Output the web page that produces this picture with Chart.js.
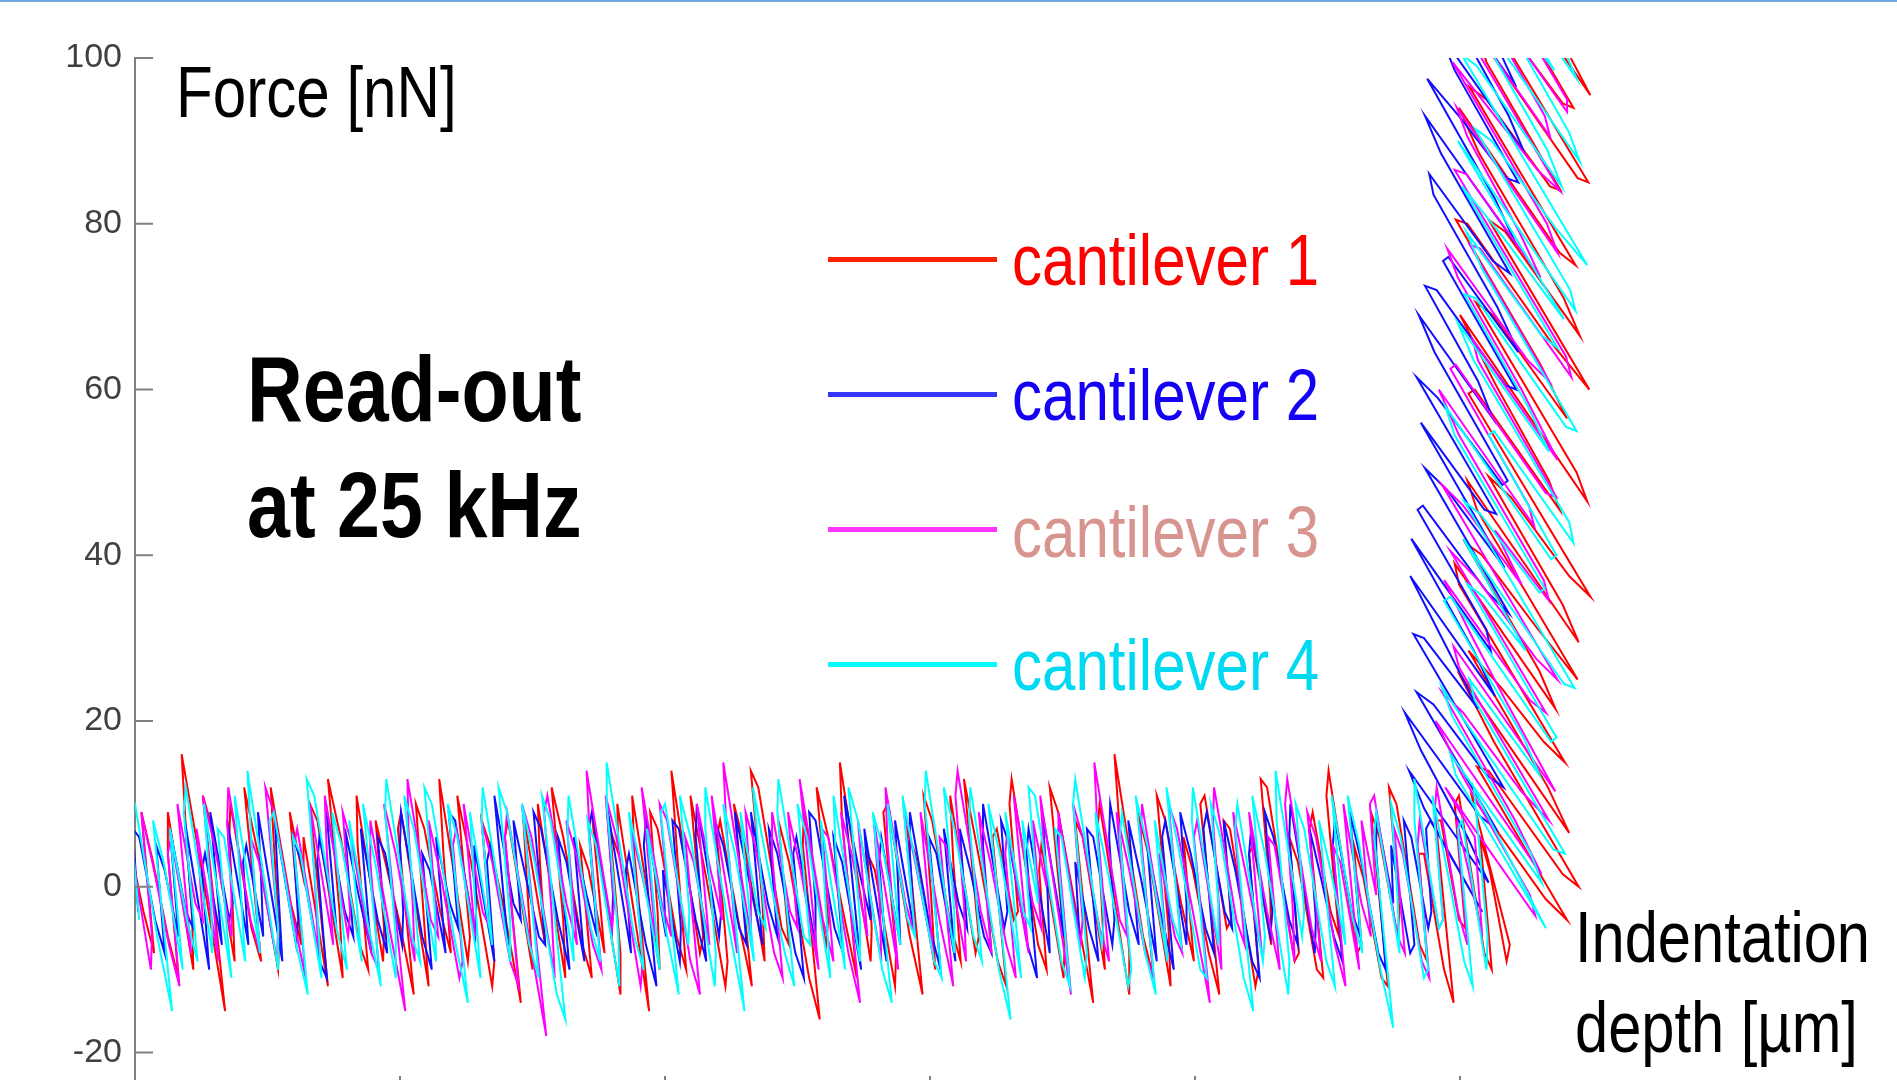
<!DOCTYPE html>
<html>
<head>
<meta charset="utf-8">
<title>Read-out at 25 kHz</title>
<script src="https://cdn.jsdelivr.net/npm/chart.js@4.4.1/dist/chart.umd.min.js"></script>
<style>
  html, body { margin: 0; padding: 0; background: #fff; }
  #stage { position: relative; width: 1897px; height: 1080px; overflow: hidden; background: #fff; }
  #stage canvas { position: absolute; left: 0; top: 0; }
  .topline { position: absolute; left: 0; top: 0; width: 1897px; height: 2px; background: #6fa8dc; }
  .txt { position: absolute; white-space: nowrap; font-family: "Liberation Sans", Arial, sans-serif; line-height: 1; color: #000; transform-origin: left top; }
  .key { position: absolute; left: 828px; width: 169px; height: 5px; }
</style>
</head>
<body>
<div id="stage">
  <canvas id="myChart" width="1897" height="1130"></canvas>
  <div class="topline"></div>

  <div class="txt" style="left:176px; top:56px; font-size:72px; transform:scaleX(0.835);">Force [nN]</div>
  <div class="txt" style="left:247px; top:331px; font-size:93px; font-weight:bold; line-height:116px; transform:scaleX(0.83);">Read-out<br>at 25 kHz</div>

  <div class="key" style="top:257px; background:#ff2000;"></div>
  <div class="key" style="top:392px; background:#3535f5;"></div>
  <div class="key" style="top:527px; background:#ff33ff;"></div>
  <div class="key" style="top:662px; background:#00ffff;"></div>
  <div class="txt" style="left:1012px; top:224px; font-size:72px; color:#ff0000; transform:scaleX(0.834);">cantilever 1</div>
  <div class="txt" style="left:1012px; top:359px; font-size:72px; color:#1400f5; transform:scaleX(0.834);">cantilever 2</div>
  <div class="txt" style="left:1012px; top:496px; font-size:72px; color:#d8958f; transform:scaleX(0.834);">cantilever 3</div>
  <div class="txt" style="left:1012px; top:629px; font-size:72px; color:#00d9f2; transform:scaleX(0.834);">cantilever 4</div>

  <div class="txt" style="left:1575px; top:892px; font-size:72px; line-height:90px; transform:scaleX(0.828);">Indentation<br>depth [&micro;m]</div>
</div>

<script>
// cantilever 1 (red): baseline part, then the contact part
const c1x = [
  -0.5, 0.8, 1.8, 0.6, 1.7, 3.1, 4.1, 3.1, 3.1, 5.5, 5.4, 4.8, 4.4, 6.3, 8.5, 6.4, 7.3, 9.4, 9.2, 8.9,
  9.0, 11.0, 11.9, 10.3, 11.6, 13.5, 13.6, 13.2, 12.8, 14.7, 15.7, 14.6, 15.9, 15.9, 18.2, 16.5, 17.2, 19.6, 19.3, 18.2,
  19.4, 21.2, 22.0, 21.0, 20.9, 23.4, 23.5, 22.7, 23.8, 24.9, 26.3, 24.8, 25.1, 27.7, 27.1, 26.5, 27.3, 28.8, 29.8, 29.1,
  28.7, 31.4, 31.6, 30.4, 31.7, 33.7, 33.9, 32.7, 33.5, 34.7, 36.4, 34.9, 35.2, 37.5, 37.0, 36.6, 38.7, 38.2, 38.0, 40.6,
  40.4, 39.3, 40.4, 42.2, 43.1, 42.0, 42.8, 44.3, 43.1, 45.8, 45.8, 44.8, 45.6, 45.5, 48.5, 47.1, 46.9, 49.5, 49.3, 48.6,
  49.3, 51.1, 52.0, 51.2, 50.6, 53.3, 53.6, 52.4, 53.9, 55.7, 55.9, 54.9, 55.2, 56.9, 58.2, 56.5, 57.5, 59.4, 59.2, 58.1,
  58.8, 61.0, 61.7, 60.7, 61.7, 63.6, 64.6, 63.0, 63.1, 65.2, 65.4, 64.3, 65.4, 66.8, 68.1, 66.7, 66.5, 69.4, 69.5, 69.1,
  69.8, 71.7, 71.8, 70.6, 71.0, 73.1, 74.3, 72.8, 73.6, 75.5, 75.1, 74.4, 75.2, 77.0, 77.9, 77.2, 76.9, 79.3, 79.6, 78.2,
  79.7, 81.4, 82.2, 80.9, 81.3, 82.9, 83.3, 82.5, 82.7, 85.2, 86.0, 85.3, 85.5, 87.6, 87.7, 86.3, 87.1, 88.8, 90.4, 88.7,
  89.4, 91.5, 91.2, 90.8, 91.0, 93.8, 93.8, 93.0, 92.4, 95.1, 96.1, 94.6, 95.6, 97.7, 97.5, 96.4, 97.2, 98.7, 99.9, 98.9,
  99.8, 101.3, 102.3, 100.5, 100.9, 103.0, 103.4, 102.7, 103.3, 105.7, 106.0, 105.1, 105.5, 107.2, 107.1, 106.2, 106.8, 109.4, 109.8, 108.9,
  109.7, 111.5, 112.1, 110.8, 111.1, 112.8, 113.6, 112.4, 112.6, 115.3, 115.7, 115.0, 115.9, 117.6, 118.2, 116.6, 117.4, 119.1, 119.3, 118.3,
  119.0, 121.2, 121.9, 121.1, 121.6, 123.5, 124.4, 122.7, 123.2, 124.9, 125.5, 124.5, 124.9, 127.3, 128.0, 126.9, 127.8, 129.4,
  129.7,
  126.1, 133.1, 135.1, 126.6, 127.7, 134.7, 136.2, 128.2, 124.8, 135.3,
  133.3, 125.8, 128.9, 132.9, 134.9, 124.9, 124.5, 134.0, 132.5, 125.5,
  127.1, 132.1, 136.1, 126.6, 125.7, 136.2, 134.7, 127.7, 129.8, 135.3,
  137.3, 125.8, 126.4, 134.4, 133.4, 128.4, 125.0, 137.0, 136.0, 126.5,
  128.1, 135.1, 132.6, 124.6, 125.7, 133.7, 137.2, 127.7, 129.3, 136.3,
  134.8, 126.8, 124.9, 134.4, 135.9, 125.9, 127.5, 133.5, 134.5, 127.5,
  126.6, 136.1, 137.1, 125.6, 129.2, 134.7, 135.7, 127.2, 125.8, 137.3,
  133.8, 128.3, 127.4, 134.4, 136.9
];
const c1y = [
  5, -3, -8, 9, 3, -6, -11, 4, 9, -10, -4, 7, 16, 2, -15, 11, 7, -9, -2, 6,
  10, -5, -9, 12, 4, -10, -6, 3, 12, -2, -7, 9, 1, 6, -12, 10, 8, -11, -3, 13,
  6, -7, -10, 5, 11, -9, -5, 8, 2, -4, -13, 7, 9, -12, -1, 10, 7, -3, -8, 4,
  13, -9, -6, 11, 3, -12, -9, 8, 5, -2, -14, 6, 8, -10, 0, 9, -7, 3, 10, -11,
  -4, 12, 6, -7, -11, 5, 2, -8, 9, -13, -8, 7, 4, 10, -15, 4, 11, -10, -3, 9,
  7, -6, -10, 3, 14, -8, -6, 11, 1, -12, -9, 6, 8, -4, -12, 10, 5, -9, -2, 14,
  12, -5, -7, 8, 3, -11, -16, 5, 9, -7, -4, 12, 6, -3, -11, 8, 15, -9, -5, 4,
  2, -12, -8, 9, 10, -6, -13, 7, 4, -10, -1, 11, 8, -5, -9, 3, 11, -8, -6, 13,
  3, -9, -12, 6, 7, -4, -3, 10, 13, -7, -10, 2, 5, -11, -7, 12, 9, -3, -14, 8,
  6, -10, -2, 7, 10, -13, -8, 5, 16, -6, -11, 9, 4, -12, -5, 11, 8, -2, -9, 6,
  2, -8, -13, 10, 11, -5, -4, 8, 7, -12, -10, 4, 5, -7, -1, 13, 12, -9, -8, 6,
  3, -10, -11, 7, 9, -3, -6, 11, 14, -8, -7, 5, 1, -11, -12, 9, 6, -6, -3, 12,
  10, -7, -9, 4, 4, -10, -14, 8, 8, -4, -5, 10, 11, -8, -10, 6, 2, -9,
  -7,
  11, -1.5, -4, 14.5, 14, 1.5, 0, 17.5, 26, 6.5,
  12, 28.5, 24, 17.5, 15, 36.5, 39, 21.5, 26, 41.5,
  40, 31.5, 25, 45.5, 49, 29.5, 34, 49.5, 47, 37.5,
  35, 59.5, 60, 45.5, 49, 60.5, 69, 46.5, 50, 70.5,
  69, 56.5, 63, 80.5, 80, 65.5, 60, 80.5, 79, 66.5,
  71, 88.5, 94, 76.5, 75, 96.5, 95, 84.5, 84, 99.5,
  103, 85.5, 85, 109.5, 104, 94.5, 94, 112.5, 117, 95.5,
  104, 116.5, 120, 107.5, 104
];

// cantilever 2 (blue)
const c2x = [
  0.3, -0.2, 0.4, 1.9, 2.8, 2.0, 2.8, 4.1, 3.3, 4.8, 5.5, 4.7, 7.0, 6.3, 6.6, 8.2, 7.1, 8.9, 9.2, 8.7,
  10.7, 10.2, 10.5, 12.1, 11.9, 11.6, 13.9, 13.5, 13.2, 15.2, 15.4, 14.9, 15.7, 17.4, 18.1, 17.2, 17.4, 19.0, 18.0, 19.8,
  20.6, 19.8, 21.1, 22.3, 21.3, 22.9, 23.8, 22.9, 23.6, 25.2, 25.3, 25.0, 25.1, 27.1, 28.0, 27.1, 27.8, 29.3, 28.4, 29.7,
  30.5, 29.6, 30.2, 32.1, 32.2, 32.0, 33.9, 33.2, 33.5, 35.2, 33.9, 35.7, 36.4, 35.7, 36.9, 38.1, 38.7, 37.6, 38.3, 39.9,
  41.0, 39.9, 40.7, 42.4, 41.4, 42.6, 43.6, 42.8, 43.1, 45.0, 45.1, 44.5, 46.8, 46.3, 46.6, 48.2, 49.2, 48.0, 48.2, 50.1,
  49.8, 51.4, 51.5, 50.7, 51.3, 52.9, 53.9, 52.9, 53.0, 55.1, 55.3, 54.7, 55.5, 57.0, 57.7, 56.6, 57.9, 59.2, 58.1, 59.7,
  60.6, 59.8, 60.6, 62.3, 63.1, 62.1, 62.4, 64.2, 64.2, 63.6, 64.2, 66.0, 66.8, 65.9, 66.7, 68.5, 66.9, 68.3, 69.4, 68.8,
  70.9, 70.2, 70.4, 72.2, 72.0, 71.7, 73.6, 73.1, 73.1, 75.0, 76.0, 74.9, 75.6, 77.4, 76.3, 77.7, 78.5, 77.8, 78.8, 80.1,
  80.8, 80.0, 80.0, 82.0, 82.3, 81.7, 82.5, 84.2, 85.1, 84.1, 84.3, 86.3, 86.1, 85.6, 87.6, 87.0, 87.2, 89.1, 88.7, 90.0,
  90.9, 89.8, 90.4, 92.2, 92.4, 91.9, 92.0, 93.8, 94.7, 93.7, 94.9, 96.4, 95.5, 96.9, 98.0, 96.9, 97.2, 99.2, 99.2, 98.6,
  99.6, 101.0, 101.8, 100.8, 101.1, 102.8, 103.5, 102.7, 103.8, 105.4, 106.1, 105.1, 105.3, 107.1, 107.3, 106.6, 107.4, 108.9, 109.7, 108.9,
  109.0, 111.3, 111.4, 110.8, 111.9, 113.1, 113.9, 113.0, 113.2, 114.8, 115.6, 114.6, 115.7, 117.3, 118.0, 117.1, 117.1, 118.7, 118.5, 120.3,
  120.7, 119.7, 120.4, 122.0, 122.3, 121.8,
  122.2,
  127.1, 121.6, 120.2, 127.7, 125.7, 121.3, 119.8, 126.9, 128.4, 120.9,
  122.5, 127.5, 129.1, 120.6, 121.6, 126.7, 123.7, 120.3, 128.3, 126.3,
  120.4, 127.9, 127.5, 121.0, 121.5, 127.6, 129.6, 121.7, 123.7, 129.2,
  121.3, 127.3, 128.4, 120.9, 122.9, 129.0, 129.5, 122.6, 121.1, 128.1,
  126.7, 121.7, 122.8, 129.3, 130.3, 123.4, 123.9, 130.5, 128.5, 122.5,
  122.1, 128.1, 129.7, 123.2, 121.7, 130.3, 128.3, 121.9, 124.9, 129.4,
  130.5, 124.5, 123.1, 131.1, 129.6, 124.2, 122.2, 130.3, 128.3, 122.8,
  124.4, 129.9, 131.5, 125.0, 123.0
];
const c2y = [
  -3, 7, 6, -4, -8, 5, 2, -6, 7, -3, -5, 8, -10, 2, 4, -7, 9, -4, -2, 8,
  -7, 3, 5, -6, 1, 9, -9, 0, 8, -7, -4, 6, 3, -9, -11, 3, 6, -5, 10, -3,
  -6, 7, -1, -8, 7, -4, -8, 6, 4, -7, -3, 5, 9, -6, -10, 4, 2, -8, 6, -2,
  -5, 9, 8, -6, -2, 5, -9, 3, 5, -7, 11, -2, -4, 8, 1, -6, -7, 9, 7, -4,
  -10, 6, 3, -9, 6, -1, -6, 7, 9, -5, -1, 10, -8, 2, 4, -7, -12, 5, 8, -6,
  2, -9, -5, 8, 7, -4, -9, 6, 10, -6, -3, 8, 5, -5, -7, 9, 1, -7, 9, -2,
  -6, 7, 4, -8, -11, 4, 6, -7, -2, 9, 8, -5, -8, 6, 3, -10, 11, 2, -4, 7,
  -9, 3, 6, -7, 0, 8, -6, 4, 9, -5, -10, 6, 4, -9, 7, -2, -5, 7, 2, -6,
  -8, 5, 10, -5, -3, 8, 5, -7, -11, 4, 7, -8, -1, 9, -6, 5, 8, -6, 3, -5,
  -9, 7, 6, -7, -4, 6, 10, -3, -7, 8, 1, -9, 5, -4, -10, 6, 8, -7, -2, 9,
  4, -5, -8, 7, 9, -3, -5, 8, 2, -9, -11, 4, 7, -6, -3, 9, 6, -4, -7, 6,
  10, -8, -4, 7, 1, -6, -9, 5, 8, -3, -6, 9, 3, -8, -10, 4, 9, -2, 5, -8,
  -7, 8, 6, -5, -3, 7,
  8,
  -3, 9.5, 14, 0.5, 6, 16.5, 21, 8.5, 7, 23.5,
  22, 13.5, 12, 30.5, 30, 21.5, 29, 37.5, 23, 28.5,
  42, 28.5, 31, 45.5, 46, 35.5, 33, 50.5, 48, 38.5,
  56, 45.5, 45, 61.5, 59, 48.5, 49, 64.5, 69, 56.5,
  61, 72.5, 72, 60.5, 60, 75.5, 76, 64.5, 70, 83.5,
  86, 75.5, 74, 88.5, 93, 77.5, 83, 97.5, 93, 85.5,
  85, 98.5, 103, 88.5, 93, 105.5, 111, 96.5, 102, 114.5,
  113, 103.5, 102, 116.5, 122
];

// cantilever 3 (magenta)
const c3x = [
  -0.8, 1.5, 1.6, 0.6, 1.8, 3.2, 4.2, 3.1, 3.4, 5.3, 4.0, 5.7, 6.4, 5.8, 7.9, 6.4, 7.5, 9.1, 9.1, 8.7,
  8.8, 10.9, 11.8, 10.9, 11.7, 13.4, 13.5, 12.3, 13.1, 14.8, 16.1, 15.0, 15.3, 17.3, 17.0, 16.5, 18.7, 18.1, 17.9, 20.1,
  20.3, 19.6, 20.5, 22.3, 23.0, 22.2, 22.2, 24.0, 25.5, 23.5, 24.6, 26.4, 26.2, 25.8, 25.7, 27.9, 28.6, 27.7, 28.9, 30.6,
  30.9, 30.0, 30.3, 32.1, 31.0, 32.8, 33.5, 32.7, 33.7, 35.4, 36.2, 34.9, 35.1, 36.9, 38.8, 36.5, 37.4, 39.6, 39.3, 38.6,
  38.9, 40.7, 41.7, 40.7, 41.6, 43.2, 44.0, 42.9, 42.6, 45.0, 45.2, 44.4, 45.4, 47.7, 47.9, 46.8, 47.9, 49.1, 47.8, 49.7,
  50.6, 49.5, 50.2, 52.4, 53.3, 51.9, 52.7, 54.2, 53.0, 54.3, 55.4, 54.4, 56.8, 55.8, 55.5, 58.1, 58.1, 57.6, 58.5, 60.3,
  61.1, 60.1, 60.1, 61.8, 62.5, 61.6, 62.8, 64.5, 62.7, 64.9, 65.9, 64.8, 65.4, 67.3, 68.4, 66.6, 67.6, 69.1, 68.2, 70.4,
  70.3, 69.7, 72.0, 71.0, 70.8, 72.7, 73.6, 72.5, 73.9, 75.3, 74.1, 75.9, 77.2, 75.9, 76.5, 78.4, 78.2, 77.4, 77.6, 79.8,
  80.8, 79.6, 80.7, 82.2, 83.1, 82.1, 82.3, 84.3, 82.9, 84.7, 85.5, 84.7, 86.0, 85.4, 88.3, 87.2, 87.1, 89.2, 89.4, 88.5,
  89.4, 91.0, 91.9, 90.8, 90.5, 92.9, 93.6, 92.6, 93.8, 95.3, 96.1, 94.9, 95.0, 97.4, 96.6, 98.1, 98.8, 97.5, 98.3, 99.8,
  101.4, 99.9, 100.2, 102.5, 102.3, 101.7, 101.8, 103.9, 104.7, 103.6, 104.9, 106.3, 105.1, 106.8, 108.0, 106.9, 107.5, 109.4, 109.2, 108.5,
  108.7, 111.0, 111.9, 110.6, 111.4, 113.2, 114.2, 113.0, 113.7, 115.5, 114.0, 115.7, 116.6, 115.7, 117.1, 116.5, 116.9, 119.1, 119.8, 118.8,
  119.6, 121.4, 122.1, 121.0, 121.2, 123.0, 123.4, 122.6, 122.8, 124.8, 125.7, 124.7, 125.8, 127.1,
  126.4,
  123.6, 132.1, 131.6, 125.2, 122.7, 132.7, 130.2, 123.3, 125.3, 130.8,
  133.4, 124.9, 124.4, 134.0, 129.5, 126.0, 123.5, 131.6, 133.1, 124.1,
  126.7, 132.2, 134.2, 123.3, 125.3, 130.8, 128.3, 133.4, 132.9, 124.9,
  123.0, 132.0, 131.5, 124.1, 124.6, 133.1, 134.1, 126.7, 126.2, 134.2,
  130.8, 124.8, 123.8, 131.4, 133.4, 125.9, 126.9, 135.5, 135.0, 124.5,
  125.6, 132.6, 130.6, 125.7, 124.7, 134.2, 133.2, 124.3, 128.3, 132.3,
  134.4, 125.4, 123.9, 133.5, 133.0, 127.0, 126.5, 135.1, 135.1, 126.1,
  128.2, 131.7, 124.7, 134.8, 132.8
];
const c3y = [
  8, -10, -6, 9, 2, -7, -12, 4, 6, -8, 10, -2, -4, 7, -9, 11, 5, -6, -1, 8,
  12, -4, -8, 6, 3, -9, -5, 12, 9, -3, -11, 5, 7, -8, 0, 10, -7, 4, 11, -6,
  -3, 9, 5, -8, -10, 3, 8, -5, -15, 10, 4, -9, -2, 7, 13, -4, -6, 8, 1, -11,
  -9, 5, 7, -6, 10, -3, -5, 8, 3, -9, -12, 6, 9, -4, -18, 10, 6, -11, -3, 9,
  11, -2, -7, 8, 4, -7, -10, 6, 14, -5, -2, 11, 6, -12, -9, 7, 1, -6, 12, -2,
  -6, 10, 8, -9, -13, 6, 3, -7, 10, 2, -4, 11, -8, 7, 15, -6, -1, 9, 5, -8,
  -11, 4, 9, -3, -5, 9, 2, -10, 13, -4, -9, 7, 6, -8, -14, 9, 4, -6, 8, -9,
  -3, 8, -10, 5, 12, -2, -6, 10, 1, -8, 9, -4, -12, 6, 5, -9, -2, 11, 14, -3,
  -8, 9, 3, -7, -11, 4, 7, -8, 11, -2, -5, 8, 0, 11, -13, 3, 9, -7, -4, 10,
  6, -5, -9, 7, 15, -4, -6, 9, 2, -8, -11, 6, 10, -9, 4, -6, -8, 10, 7, -3,
  -14, 6, 8, -10, -3, 8, 12, -4, -7, 9, 1, -8, 9, -3, -10, 6, 5, -9, -2, 10,
  13, -5, -9, 9, 6, -7, -12, 5, 3, -10, 10, -2, -6, 8, -1, 10, 11, -6, -8, 7,
  4, -9, -11, 5, 8, -5, -4, 9, 12, -3, -7, 8, 2, -6,
  6,
  12, -3.5, -1, 13.5, 20, 1.5, 8, 23.5, 21, 11.5,
  8, 26.5, 29, 11.5, 22, 30.5, 37, 22.5, 21, 40.5,
  37, 27.5, 25, 48.5, 46, 36.5, 43, 34.5, 37, 54.5,
  60, 43.5, 46, 62.5, 63, 47.5, 47, 63.5, 66, 51.5,
  60, 73.5, 77, 63.5, 61, 77.5, 77, 61.5, 64, 86.5,
  86, 73.5, 79, 90.5, 94, 76.5, 80, 99.5, 93, 86.5,
  84, 103.5, 108, 90.5, 93, 106.5, 109, 93.5, 95, 114.5,
  112, 106.5, 122, 103.5, 109
];

// cantilever 4 (cyan)
const c4x = [
  0.4, -0.7, 0.0, 2.1, 3.5, 1.7, 2.7, 4.5, 3.3, 4.9, 5.9, 4.6, 4.8, 7.3, 7.2, 6.5, 9.1, 7.8, 8.4, 10.4,
  9.9, 9.4, 11.8, 11.0, 10.6, 13.5, 13.5, 12.7, 13.1, 15.2, 16.3, 14.9, 15.6, 17.6, 17.1, 16.2, 16.9, 19.0, 20.0, 18.6,
  19.5, 21.4, 20.2, 21.9, 23.2, 21.5, 22.8, 24.6, 24.6, 23.6, 23.7, 26.1, 26.9, 25.4, 26.3, 28.4, 28.3, 27.3, 28.0, 30.1,
  31.4, 29.5, 30.4, 32.6, 32.0, 31.6, 33.7, 32.7, 32.8, 35.4, 35.4, 34.3, 35.1, 37.2, 38.1, 36.5, 37.7, 39.8, 40.6, 38.4,
  39.2, 41.4, 41.2, 40.8, 40.9, 43.0, 43.9, 42.7, 43.5, 45.7, 45.6, 44.5, 44.5, 47.1, 48.0, 46.6, 47.8, 49.5, 48.3, 49.9,
  51.3, 49.6, 50.0, 52.2, 52.3, 51.4, 52.4, 54.7, 54.8, 53.8, 53.8, 55.9, 57.5, 55.5, 56.6, 58.4, 57.1, 58.8, 59.5, 58.3,
  59.9, 61.3, 62.2, 60.6, 60.7, 63.1, 63.7, 62.5, 63.4, 65.6, 65.1, 64.7, 67.0, 66.1, 65.9, 68.4, 68.4, 67.3, 68.2, 70.5,
  71.4, 69.6, 70.5, 72.2, 71.0, 72.9, 73.6, 72.4, 73.8, 75.4, 76.1, 74.5, 74.6, 77.3, 77.3, 76.3, 77.3, 79.1, 79.9, 78.7,
  78.8, 81.5, 82.6, 80.5, 81.6, 83.6, 82.1, 83.8, 84.5, 83.7, 85.2, 84.3, 84.9, 87.4, 88.2, 86.8, 87.4, 89.6, 89.8, 88.5,
  88.7, 91.2, 91.4, 90.6, 91.9, 93.7, 94.0, 92.9, 93.1, 95.3, 96.3, 94.4, 95.5, 97.4, 96.2, 97.9, 98.7, 97.3, 98.7, 100.5,
  101.1, 99.7, 99.8, 102.2, 102.2, 101.5, 102.4, 104.6, 105.5, 103.8, 104.0, 106.4, 106.6, 105.4, 106.6, 108.8, 108.9, 107.7, 107.6, 110.1,
  110.3, 109.5, 110.3, 112.4, 113.2, 111.7, 112.8, 114.2, 112.9, 114.9, 115.8, 114.4, 115.5, 117.5, 118.7, 116.9, 117.1, 119.3, 119.1, 118.5,
  119.4, 121.6, 122.0, 120.7, 120.7, 123.0, 123.4, 122.4, 123.8, 125.4, 126.2, 124.8, 125.2, 127.5, 127.6, 126.3,
  127.0,
  133.1, 124.6, 124.1, 132.7, 131.7, 124.3, 123.3, 133.8, 134.9, 126.4,
  125.9, 132.5, 131.0, 123.5, 124.1, 133.6, 134.1, 125.7, 127.2, 131.2,
  125.3, 134.8, 135.8, 125.4, 126.9, 132.5, 133.0, 124.5, 123.6, 133.6,
  134.1, 127.7, 128.2, 135.7, 135.3, 126.3, 124.8, 133.4, 131.4, 125.4,
  126.5, 135.0, 136.0, 127.1, 125.6, 132.7, 134.2, 125.2, 129.3, 134.8,
  124.8, 135.9, 135.4, 126.4, 128.0, 134.0, 137.0, 125.1, 126.6, 134.6,
  133.2, 126.7, 125.7, 136.3, 135.3, 128.4, 128.9, 133.9, 124.9, 136.0,
  134.5, 126.1, 126.6, 135.6, 136.2
];
const c4y = [
  -4, 12, 10, -6, -15, 8, 3, -10, 7, -4, -9, 9, 12, -8, -2, 10, -11, 7, 6, -9,
  1, 11, -8, 5, 14, -10, -5, 8, 9, -7, -13, 6, 4, -11, -1, 13, 11, -5, -10, 9,
  5, -9, 8, -4, -12, 10, 2, -11, -6, 9, 13, -6, -9, 11, 7, -9, -3, 12, 10, -6,
  -14, 10, 6, -11, 0, 9, -7, 8, 12, -9, -4, 12, 9, -7, -11, 10, 3, -13, -16, 11,
  8, -9, -2, 7, 11, -5, -9, 8, 5, -12, -6, 10, 15, -6, -10, 9, 2, -10, 7, -4,
  -13, 9, 10, -7, -3, 11, 6, -12, -8, 7, 12, -4, -15, 10, 4, -9, 9, -3, -5, 12,
  1, -8, -12, 9, 13, -6, -7, 10, 6, -11, -1, 8, -10, 4, 11, -9, -4, 12, 8, -10,
  -14, 9, 5, -7, 10, -4, -6, 11, 2, -9, -11, 10, 14, -8, -3, 12, 7, -6, -9, 8,
  12, -10, -16, 10, 4, -11, 9, -3, -5, 8, -2, 12, 11, -9, -12, 7, 6, -11, -8, 10,
  13, -7, -4, 9, 1, -12, -10, 6, 9, -8, -13, 11, 5, -9, 8, -4, -7, 12, 3, -10,
  -11, 8, 12, -7, -2, 10, 6, -11, -15, 7, 10, -9, -6, 11, 4, -13, -9, 8, 14, -6,
  -3, 10, 7, -9, -12, 8, 2, -7, 11, -4, -8, 11, 5, -10, -17, 6, 9, -8, -1, 10,
  6, -11, -10, 8, 13, -5, -4, 11, 2, -9, -12, 7, 8, -10, -6, 12,
  10,
  -5, 13.5, 16, 0.5, 4, 20.5, 24, 4.5, 4, 22.5,
  25, 13.5, 18, 34.5, 35, 17.5, 18, 36.5, 35, 28.5,
  42, 24.5, 24, 46.5, 45, 35.5, 36, 54.5, 58, 39.5,
  40, 54.5, 55, 41.5, 44, 63.5, 68, 52.5, 58, 71.5,
  71, 55.5, 55, 74.5, 79, 66.5, 65, 84.5, 78, 68.5,
  90, 69.5, 72, 91.5, 90, 79.5, 75, 100.5, 99, 84.5,
  89, 103.5, 107, 87.5, 91, 106.5, 107, 98.5, 118, 97.5,
  102, 120.5, 121, 104.5, 105
];

const yMin = -25, yMax = 100, yStep = 20;
const xMin = 0, xMax = 140, xStep = 25;

function pts(xs, ys) {
  return xs.map(function(v, i) { return {x: v, y: ys[i]}; });
}

// tick marks drawn on the inside of the axes
const inwardTicks = {
  id: 'inwardTicks',
  afterDraw(chart) {
    var ctx = chart.ctx;
    var sx = chart.scales.x, sy = chart.scales.y;
    ctx.save();
    ctx.strokeStyle = '#808080';
    ctx.lineWidth = 2;
    ctx.beginPath();
    sy.ticks.forEach(function(t) {
      var py = sy.getPixelForValue(t.value);
      ctx.moveTo(sx.left, py);
      ctx.lineTo(sx.left + 18, py);
    });
    sx.ticks.forEach(function(t) {
      if (t.value === 0) return;
      var px = sx.getPixelForValue(t.value);
      ctx.moveTo(px, sy.bottom);
      ctx.lineTo(px, sy.bottom - 18);
    });
    ctx.stroke();
    ctx.restore();
  }
};

new Chart("myChart", {
  type: "scatter",
  data: {
    datasets: [
      { label: 'cantilever 4', data: pts(c4x, c4y), borderColor: '#00ffff', order: 1 },
      { label: 'cantilever 3', data: pts(c3x, c3y), borderColor: '#ff00ff', order: 2 },
      { label: 'cantilever 2', data: pts(c2x, c2y), borderColor: '#1010ff', order: 3 },
      { label: 'cantilever 1', data: pts(c1x, c1y), borderColor: '#ff0000', order: 4 }
    ]
  },
  options: {
    responsive: false,
    animation: false,
    devicePixelRatio: 1,
    showLine: true,
    datasets: {
      scatter: { showLine: true, pointRadius: 0, borderWidth: 2, tension: 0 }
    },
    layout: { padding: { top: 58, right: 278, left: 0, bottom: 0 } },
    plugins: {
      legend: { display: false },
      tooltip: { enabled: false }
    },
    scales: {
      x: {
        type: 'linear',
        min: xMin, max: xMax,
        grid: { display: false, drawTicks: false },
        border: { display: true, color: '#808080', width: 2 },
        ticks: { stepSize: xStep, includeBounds: false, callback: function() { return ''; } },
        afterFit: function(s) { s.height = 1130 - 1094; }
      },
      y: {
        type: 'linear',
        min: yMin, max: yMax,
        grid: { display: false, drawTicks: false },
        border: { display: true, color: '#808080', width: 2 },
        ticks: {
          stepSize: yStep,
          includeBounds: false,
          padding: 13,
          color: '#404040',
          font: { family: 'Liberation Sans', size: 34 }
        },
        afterFit: function(s) { s.width = 135; }
      }
    }
  },
  plugins: [inwardTicks]
});
</script>
</body>
</html>
